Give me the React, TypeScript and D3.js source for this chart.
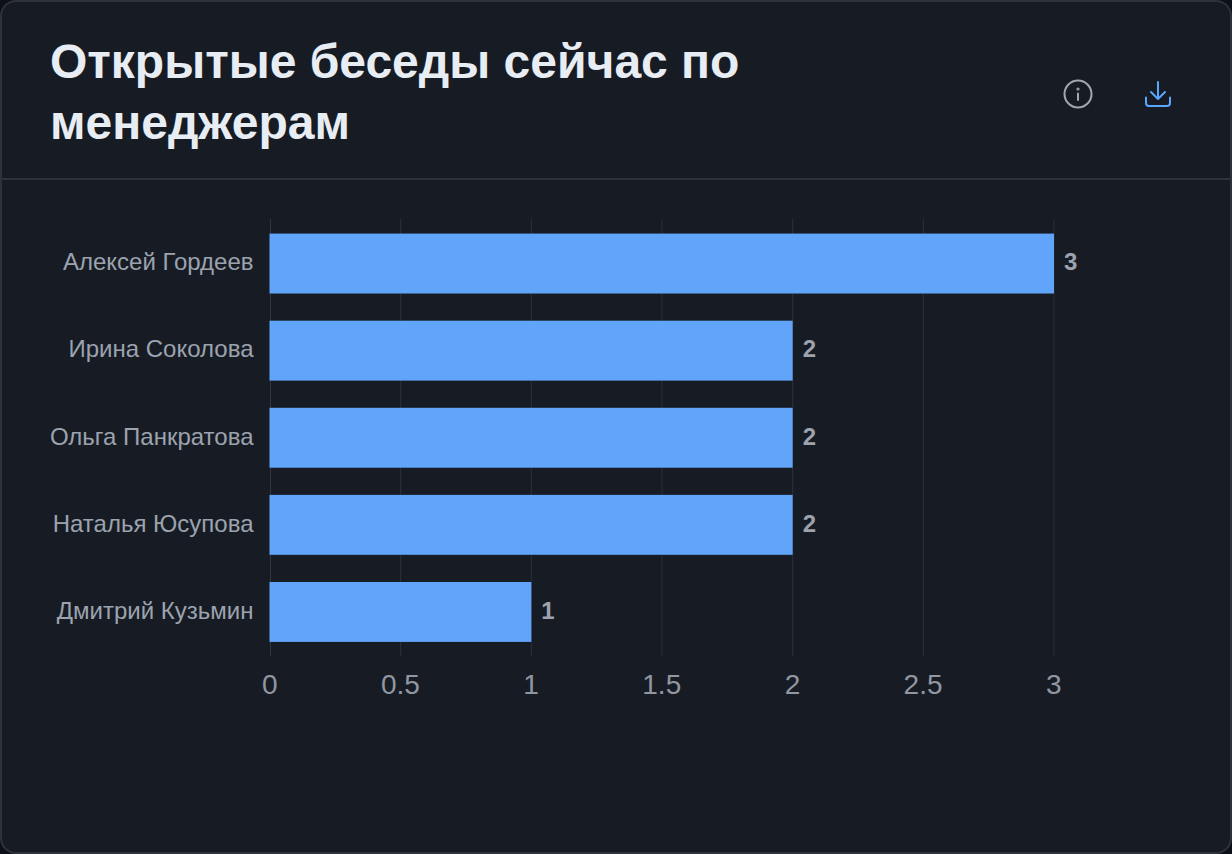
import { useEffect, useRef } from 'react';
import * as d3 from 'd3';

const managers = ['Алексей Гордеев', 'Ирина Соколова', 'Ольга Панкратова', 'Наталья Юсупова', 'Дмитрий Кузьмин'];
const openChats = [3, 2, 2, 2, 1];
const xTicks = [0, 0.5, 1, 1.5, 2, 2.5, 3];
const titleLines = ['Открытые беседы сейчас по', 'менеджерам'];

const WIDTH = 1232;
const HEIGHT = 854;
const FONT = '"Liberation Sans", Arial, sans-serif';

const App = () => {
  const svgRef = useRef<SVGSVGElement>(null);

  useEffect(() => {
    if (!svgRef.current) return;

    const svg = d3.select(svgRef.current);
    svg.selectAll('*').remove();

    // Card
    svg.append('rect').attr('width', WIDTH).attr('height', HEIGHT).attr('fill', '#0d1117');
    svg.append('rect')
      .attr('x', 1)
      .attr('y', 1)
      .attr('width', WIDTH - 2)
      .attr('height', HEIGHT - 2)
      .attr('rx', 15)
      .attr('fill', '#171c24')
      .attr('stroke', '#2d333b')
      .attr('stroke-width', 2);

    svg.append('line')
      .attr('x1', 2)
      .attr('x2', WIDTH - 2)
      .attr('y1', 179)
      .attr('y2', 179)
      .attr('stroke', '#2d333b')
      .attr('stroke-width', 2);

    // Title
    svg.append('g')
      .selectAll('text')
      .data(titleLines)
      .enter()
      .append('text')
      .attr('x', 50)
      .attr('y', (_, i) => 78 + i * 60.5)
      .attr('fill', '#e8edf4')
      .style('font-family', FONT)
      .style('font-size', '48px')
      .style('font-weight', 'bold')
      .text(d => d);

    // Info icon
    const info = svg.append('g')
      .attr('transform', 'translate(1078,94)')
      .attr('fill', 'none')
      .attr('stroke', '#a3a8af')
      .attr('stroke-width', 2);
    info.append('circle').attr('r', 13.5);
    info.append('line').attr('y1', -0.5).attr('y2', 6).attr('stroke-linecap', 'round');
    info.append('circle').attr('cy', -5).attr('r', 0.6);

    // Download icon
    svg.append('path')
      .attr('transform', 'translate(1158,94)')
      .attr('d', 'M-12,3.5 V9 Q-12,12 -9,12 H9 Q12,12 12,9 V3.5 M0,-12 V5 M-7,-2 L0,5 L7,-2')
      .attr('fill', 'none')
      .attr('stroke', '#58a6ff')
      .attr('stroke-width', 2)
      .attr('stroke-linecap', 'round')
      .attr('stroke-linejoin', 'round');

    // Scales
    const xScale = d3.scaleLinear().domain([0, 3]).range([270, 1054]);
    const yScale = d3.scaleBand()
      .domain(managers)
      .range([220, 655.5])
      .paddingInner(0.312)
      .paddingOuter(0.156);

    // Grid
    svg.append('g')
      .selectAll('line')
      .data(xTicks)
      .enter()
      .append('line')
      .attr('x1', d => xScale(d) + (d === 0 ? 0.5 : 0))
      .attr('x2', d => xScale(d) + (d === 0 ? 0.5 : 0))
      .attr('y1', 219)
      .attr('y2', 656)
      .attr('stroke', '#30363d')
      .attr('stroke-width', 1)
      .attr('stroke-opacity', d => (d === 0 ? 1 : 0.8));

    // Bars
    svg.append('g')
      .selectAll('rect')
      .data(openChats)
      .enter()
      .append('rect')
      .attr('x', xScale(0) - 0.5)
      .attr('y', (_, i) => yScale(managers[i]) as number)
      .attr('width', d => xScale(d) - xScale(0) + 0.5)
      .attr('height', yScale.bandwidth())
      .attr('fill', '#60a5fa');

    // Value labels
    svg.append('g')
      .selectAll('text')
      .data(openChats)
      .enter()
      .append('text')
      .attr('x', d => xScale(d) + 10)
      .attr('y', (_, i) => (yScale(managers[i]) as number) + yScale.bandwidth() / 2 - 1.65)
      .attr('dy', '0.35em')
      .attr('fill', '#9ca3af')
      .style('font-family', FONT)
      .style('font-size', '24px')
      .style('font-weight', 'bold')
      .text(d => d);

    // Category labels
    svg.append('g')
      .selectAll('text')
      .data(managers)
      .enter()
      .append('text')
      .attr('x', 253.5)
      .attr('y', d => (yScale(d) as number) + yScale.bandwidth() / 2 - 1.65)
      .attr('dy', '0.35em')
      .attr('text-anchor', 'end')
      .attr('fill', '#9ca3af')
      .style('font-family', FONT)
      .style('font-size', '24px')
      .text(d => d);

    // X tick labels
    svg.append('g')
      .selectAll('text')
      .data(xTicks)
      .enter()
      .append('text')
      .attr('x', d => xScale(d) - 0.25)
      .attr('y', 694)
      .attr('text-anchor', 'middle')
      .attr('fill', '#9097a1')
      .style('font-family', FONT)
      .style('font-size', '28px')
      .text(d => d);
  }, []);

  return (
    <svg
      ref={svgRef}
      width={WIDTH}
      height={HEIGHT}
      style={{ position: 'absolute', top: 0, left: 0, display: 'block' }}
    />
  );
};

export default App;
